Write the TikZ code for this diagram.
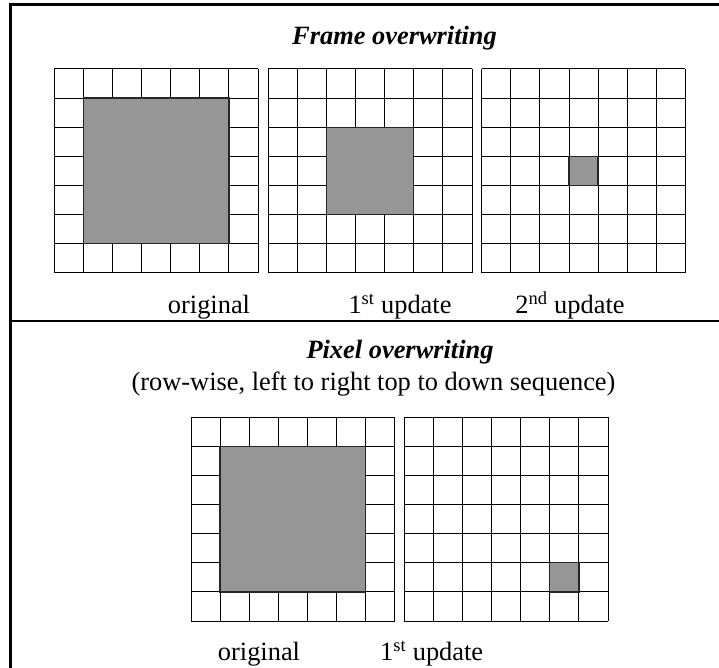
\documentclass[tikz,border=0pt]{standalone}
\usepackage{fontspec}
\setmainfont{Liberation Serif}
\definecolor{pixgray}{RGB}{150,150,150}
\tikzset{
  cellline/.style={line width=1bp, black},
  filled/.style={fill=pixgray, draw=black!85, line width=1.3bp},
  frameline/.style={line width=2.5bp, black},
  lbl/.style={anchor=base, inner sep=0pt, font=\fontsize{26.5}{30}\selectfont},
  ttl/.style={anchor=base, inner sep=0pt, font=\fontsize{26.5}{30}\selectfont\bfseries\itshape}
}
% 7x7 pixel grid at (#1,#2) with a filled #5x#5 block starting at column #3, row #4
\newcommand\pixgrid[5]{%
  \begin{scope}[shift={(#1,#2)}]
    \foreach \k in {0,...,7} {
      \draw[cellline] (\k*29.1,0) -- (\k*29.1,203.7);
      \draw[cellline] (0,\k*29.1) -- (203.7,\k*29.1);
    }
    \filldraw[filled] (#3*29.1,#4*29.1) rectangle ++(#5*29.1,#5*29.1);
  \end{scope}}
\begin{document}
\begin{tikzpicture}[x=1bp,y=-1bp]
  \fill[white] (0,0) rectangle (719,668);
  \useasboundingbox (0,0) rectangle (719,668);

  % outer frame and section divider
  \draw[frameline] (719,4.3) -- (10.5,4.3) -- (10.5,668);
  \draw[frameline] (10.5,321) -- (719,321);

  % frame overwriting
  \node[ttl] (t1) at (394.5,45) {Frame overwriting};
  \pixgrid{54.3}{69}{1}{1}{5}
  \pixgrid{268.3}{69}{2}{2}{3}
  \pixgrid{481.7}{69}{3}{3}{1}
  \node[lbl] (a1) at (209,313) {original};
  \node[lbl] (a2) at (400,313) {1\textsuperscript{st} update};
  \node[lbl] (a3) at (570,313) {2\textsuperscript{nd} update};

  % pixel overwriting
  \node[ttl] (t2) at (400,358.5) {Pixel overwriting};
  \node[lbl] (t3) at (373.5,390) {(row-wise, left to right top to down sequence)};
  \pixgrid{191}{417.3}{1}{1}{5}
  \pixgrid{404.3}{417.3}{5}{5}{1}
  \node[lbl] (b1) at (259,660) {original};
  \node[lbl] (b2) at (431.7,660) {1\textsuperscript{st} update};
\end{tikzpicture}
\end{document}
